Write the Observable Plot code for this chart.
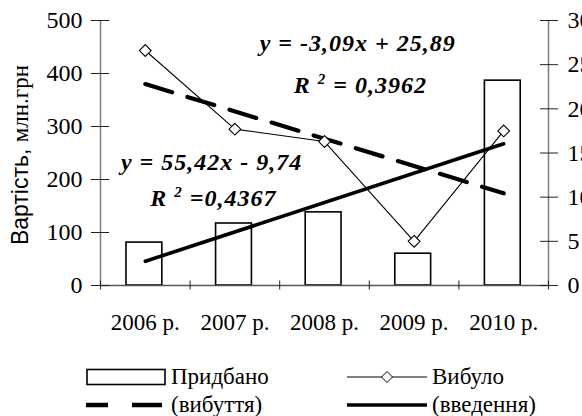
<!DOCTYPE html>
<html>
<head>
<meta charset="utf-8">
<script src="https://cdn.jsdelivr.net/npm/d3@7"></script>
<script src="https://cdn.jsdelivr.net/npm/@observablehq/plot@0.6"></script>
<style>
  body { margin: 0; background: #fff; }
  #chart svg { display: block; }
  #chart svg text { font-family: "Liberation Serif", serif; }
  #legend { position: relative; width: 582px; height: 66px; font-family: "Liberation Serif", serif; font-size: 23px; color: #000; }
  .grid { position: absolute; left: 86px; top: 13px; display: grid; grid-template-columns: 261px 240px; grid-auto-rows: 28px; }
  .item { display: flex; align-items: center; gap: 5px; white-space: nowrap; }
  .item svg { display: block; flex: none; }
</style>
</head>
<body>
<div id="chart"></div>
<div id="legend"></div>
<script>
// ---- data ----
const years = ["2006 р.", "2007 р.", "2008 р.", "2009 р.", "2010 р."];
const acquired = [81, 117, 138, 60, 386.5];      // Придбано, left axis (млн.грн)
const disposed = [26.6, 17.7, 16.3, 5.0, 17.5];  // Вибуло, right axis
const leftTicks = [0, 100, 200, 300, 400, 500];
const rightTicks = [0, 5, 10, 15, 20, 25, 30];
const yLabel = ["Вартість, ", "млн.грн"];
const legendLabels = ["Придбано", "Вибуло", "(вибуття)", "(введення)"];
const equations = ["y = -3,09x + 25,89", "y = 55,42x - 9,74"];
const r2Values = ["= 0,3962", "=0,4367"];

const k = 500 / 30; // right axis -> left axis units
const data = years.map((year, j) => ({
  i: j + 1, year, acquired: acquired[j], disposed: disposed[j], disposedL: disposed[j] * k
}));
const bounds = years.map((_, j) => j + 0.5).concat([years.length + 0.5]);

// annotation anchors (data space)
const notes = [
  {text: equations[0], x: 3.37, y: 457},
  {text: "R 2 " + r2Values[0], x: 3.40, y: 378},
  {text: equations[1], x: 1.74, y: 232},
  {text: "R 2 " + r2Values[1], x: 1.76, y: 164}
];

const font = "Liberation Serif";
const chart = Plot.plot({
  width: 582,
  height: 350,
  marginTop: 20,
  marginBottom: 65,
  marginLeft: 100,
  marginRight: 34,
  x: {domain: [0.5, 5.5], axis: null},
  y: {domain: [0, 500], axis: null},
  style: "font-family: 'Liberation Serif', serif; font-size: 23px; background: #fff; color: #000; overflow: hidden;",
  marks: [
    Plot.rectY(data, {x1: d => d.i - 0.21, x2: d => d.i + 0.19, y: "acquired", fill: "#fff", stroke: "#000", strokeWidth: 1.6}),
    Plot.ruleX([0.5, 5.5], {stroke: "#808080", strokeWidth: 1.5}),
    Plot.ruleY([0], {stroke: "#555", strokeWidth: 1.3}),
    Plot.axisY(leftTicks, {anchor: "left", tickSize: 18, dx: 9, tickPadding: 9, stroke: "#222", fill: "#000", fontSize: 24, fontFamily: font}),
    Plot.axisY(rightTicks.map(v => v * k), {anchor: "right", tickSize: 18, dx: -9, tickPadding: 10, stroke: "#222", fill: "#000", fontSize: 24, fontFamily: font, tickFormat: d => String(Math.round(d / k))}),
    Plot.axisX(bounds, {anchor: "bottom", tickSize: 9, dy: -4.5, stroke: "#222", tickFormat: () => ""}),
    Plot.axisX(data.map(d => d.i), {anchor: "bottom", tickSize: 0, tickPadding: 28, fontSize: 23, fontFamily: font, fill: "#000", tickFormat: i => years[i - 1]}),
    Plot.linearRegressionY(data, {x: "i", y: "acquired", ci: 0, stroke: "#000", strokeWidth: 3.6}),
    Plot.linearRegressionY(data, {x: "i", y: "disposedL", ci: 0, stroke: "#000", strokeWidth: 4.2, strokeDasharray: "28,16"}),
    Plot.line(data, {x: "i", y: "disposedL", stroke: "#000", strokeWidth: 1.1}),
    Plot.dot(data, {x: "i", y: "disposedL", symbol: "diamond2", r: 5.3, fill: "#fff", stroke: "#000", strokeWidth: 1.1}),
    Plot.text(notes, {x: "x", y: "y", text: "text", fontWeight: "bold", fontStyle: "italic", fontSize: 24, fontFamily: font, fill: "#000"}),
    Plot.text([yLabel.join("")], {frameAnchor: "left", textAnchor: "middle", rotate: -90, dx: -80, dy: 2, fontSize: 23, fontFamily: font, fill: "#000"})
  ]
});
document.getElementById("chart").appendChild(chart);

// mixed fonts in the y label
d3.select(chart).selectAll("text").filter(function() { return this.textContent === yLabel.join(""); })
  .each(function() {
    const t = d3.select(this);
    t.text(null);
    t.append("tspan").style("font-family", "'Liberation Sans', sans-serif").text(yLabel[0]);
    t.append("tspan").style("font-family", "'Liberation Serif', serif").text(yLabel[1]);
  });
// slight letter spacing on the equations, as in the reference
d3.select(chart).selectAll("text").filter(function() { return equations.includes(this.textContent); })
  .style("letter-spacing", "1px");
// R² with a raised superscript
r2Values.forEach(v => {
  d3.select(chart).selectAll("text").filter(function() { return this.textContent === "R 2 " + v; })
    .each(function() {
      const t = d3.select(this);
      t.text(null).style("letter-spacing", "1px");
      t.append("tspan").text("R ");
      t.append("tspan").attr("dy", "-9").style("font-size", "15px").text("2");
      t.append("tspan").attr("dy", "9").text(" " + v);
    });
});

// legend
const sw = {
  rect: `<svg width="80" height="20"><rect x="1" y="2.5" width="78" height="15" fill="#fff" stroke="#000" stroke-width="1.6"/></svg>`,
  dot: `<svg width="80" height="20"><line x1="0" y1="10" x2="80" y2="10" stroke="#000" stroke-width="1"/><path d="M40,4.5L45.5,10L40,15.5L34.5,10Z" fill="#fff" stroke="#000"/></svg>`,
  dash: `<svg width="80" height="20"><line x1="0" y1="10" x2="76" y2="10" stroke="#000" stroke-width="4.5" stroke-dasharray="22,24,30"/></svg>`,
  solid: `<svg width="80" height="20"><line x1="0" y1="10" x2="80" y2="10" stroke="#000" stroke-width="3.6"/></svg>`
};
const items = [[sw.rect, legendLabels[0]], [sw.dot, legendLabels[1]], [sw.dash, legendLabels[2]], [sw.solid, legendLabels[3]]];
document.getElementById("legend").innerHTML =
  `<div class="grid">` + items.map(([s, l]) => `<div class="item">${s}<span>${l}</span></div>`).join("") + `</div>`;
</script>
</body>
</html>
